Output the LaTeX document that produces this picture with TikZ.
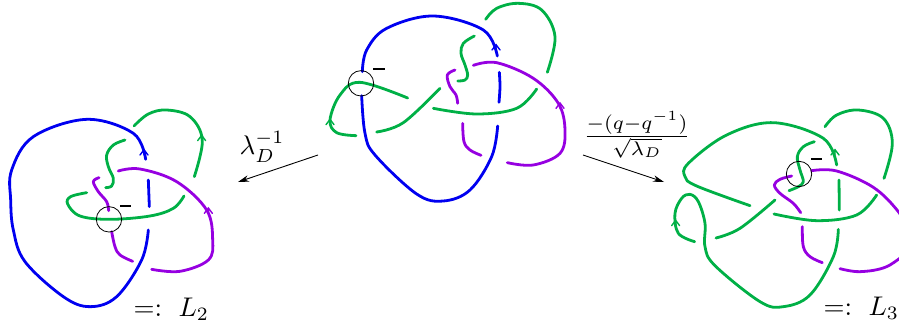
\documentclass[tikz,border=0pt]{standalone}
\usetikzlibrary{arrows.meta}
\definecolor{kgreen}{RGB}{0,176,70}
\definecolor{kblue}{RGB}{0,0,240}
\definecolor{kpurple}{RGB}{150,0,225}
\tikzset{
  strand/.style={line width=2.8pt,line cap=round,line join=round},
  tipmark/.style={line width=1.4pt,line cap=round},
  ring/.style={draw=black,line width=.8pt},
  dashmark/.style={draw=black,line width=1.8pt},
  maparrow/.style={draw=black,line width=.9pt,-{Stealth[length=11pt,width=6.5pt]}},
  lab/.style={inner sep=0pt,scale=2.7,transform shape},
  panel/.style={x=.33333pt,y=-.33333pt}
}
\newcommand{\curve}[2]{\draw[strand,#1] plot[smooth,tension=.6] coordinates {#2};}
\newcommand{\uptip}[3]{\draw[tipmark,#1] (#2-12,#3+10) -- (#2,#3-6) -- (#2+12,#3+10) (#2,#3-6) -- (#2,#3+10);}
\begin{document}
\begin{tikzpicture}[x=1pt,y=-1pt]
\useasboundingbox (0,0) rectangle (899,324);
\clip (0,0) rectangle (899,324);
% left panel
\begin{scope}[yshift=-100pt,panel]
\curve{kblue}{(437,178)(400,100)(260,58)(100,110)(35,210)(32,300)(40,390)(75,485)(190,590)(270,620)(350,590)(425,480)(445,390)}
\curve{kblue}{(445,240)(448,320)}
\curve{kgreen}{(402,78)(445,42)(500,30)(570,50)(607,120)(583,230)}
\curve{kgreen}{(375,120)(340,135)(320,165)(325,200)(340,235)(335,258)(317,263)}
\curve{kgreen}{(260,278)(212,290)(203,312)(240,348)(330,358)(450,348)(520,325)(552,288)}
\curve{kpurple}{(297,233)(280,245)(295,275)(320,305)(326,332)}
\curve{kpurple}{(335,395)(345,440)(360,465)(398,484)}
\curve{kpurple}{(355,213)(420,207)(530,245)(620,330)(638,420)(625,480)(540,514)(455,508)}
\uptip{kblue}{432}{155}
\uptip{kgreen}{605}{112}
\uptip{kpurple}{625}{330}
\node[ring,circle,minimum size=25.4pt,inner sep=0pt] (c1) at (327,358) {};
\coordinate (m1a) at (360,317); \coordinate (m1b) at (393,317);
\draw[dashmark] (m1a) -- (m1b);
\end{scope}
% centre panel
\begin{scope}[xshift=320pt,panel]
\curve{kblue}{(532,168)(490,90)(340,48)(200,85)(140,150)(127,215)}
\curve{kblue}{(125,287)(135,400)(165,465)(290,582)(370,603)(450,570)(515,470)(533,378)}
\curve{kblue}{(538,217)(540,260)(537,307)}
\curve{kgreen}{(497,58)(530,25)(595,10)(665,30)(705,110)(682,217)}
\curve{kgreen}{(463,108)(430,130)(423,160)(435,195)(443,225)(435,240)(413,243)}
\curve{kpurple}{(405,210)(382,225)(390,260)(408,285)(413,310)}
\curve{kpurple}{(428,370)(432,425)(450,450)(483,466)}
\curve{kpurple}{(460,196)(530,188)(640,235)(715,310)(735,390)(720,460)(640,495)(562,488)}
\curve{kgreen}{(340,325)(470,342)(590,325)(650,267)}
\curve{kgreen}{(360,265)(250,368)(170,396)}
\curve{kgreen}{(263,294)(120,247)(60,285)(30,360)(50,398)(108,407)}
\uptip{kblue}{528}{140}
\uptip{kgreen}{30}{364}
\uptip{kpurple}{720}{315}
\node[ring,circle,minimum size=25.4pt,inner sep=0pt] (c2) at (123,250) {};
\coordinate (m2a) at (160,207); \coordinate (m2b) at (195,207);
\draw[dashmark] (m2a) -- (m2b);
\end{scope}
% right panel
\begin{scope}[xshift=660pt,yshift=-100pt,panel]
\curve{kgreen}{(530,195)(490,115)(340,68)(200,105)(85,190)(75,230)(110,258)(270,317)}
\curve{kgreen}{(345,300)(240,385)(168,414)}
\curve{kgreen}{(104,425)(55,400)(45,340)(65,295)(90,283)(115,305)(135,370)(135,440)(165,497)(300,605)(370,620)(450,585)(520,470)(535,388)}
\curve{kgreen}{(537,240)(538,330)}
\curve{kgreen}{(495,80)(530,45)(595,30)(670,55)(697,130)(672,235)}
\curve{kgreen}{(463,125)(430,140)(412,170)(420,210)(430,245)(415,260)(387,272)}
\curve{kpurple}{(395,228)(360,238)(343,255)(360,280)(400,310)(422,338)}
\curve{kpurple}{(427,380)(430,440)(450,470)(487,488)}
\curve{kpurple}{(455,212)(530,213)(640,262)(715,335)(750,400)}
\curve{kpurple}{(540,506)(600,515)(680,500)(750,450)}
\curve{kgreen}{(342,342)(470,362)(590,345)(650,285)}
\uptip{kgreen}{525}{155}
\uptip{kgreen}{47}{367}
\node[ring,circle,minimum size=25.4pt,inner sep=0pt] (c3) at (417,222) {};
\coordinate (m3a) at (453,177); \coordinate (m3b) at (487,177);
\draw[dashmark] (m3a) -- (m3b);
\end{scope}
% maps
\coordinate (a1s) at (318,155); \coordinate (a1e) at (238,182);
\coordinate (a2s) at (583,155); \coordinate (a2e) at (664,182);
\draw[maparrow] (a1s) -- (a1e);
\draw[maparrow] (a2s) -- (a2e);
\node[lab,anchor=center] (t1) at (262,147) {$\lambda_D^{-1}$};
\node[lab,anchor=center,scale=1.04] (t2) at (637,135) {$\frac{-(q-q^{-1})}{\sqrt{\lambda_D}}$};
\node[lab,anchor=base west] (t3) at (133,316) {$=:\ L_2$};
\node[lab,anchor=base west] (t4) at (823,315) {$=:\ L_3$};
\end{tikzpicture}
\end{document}
